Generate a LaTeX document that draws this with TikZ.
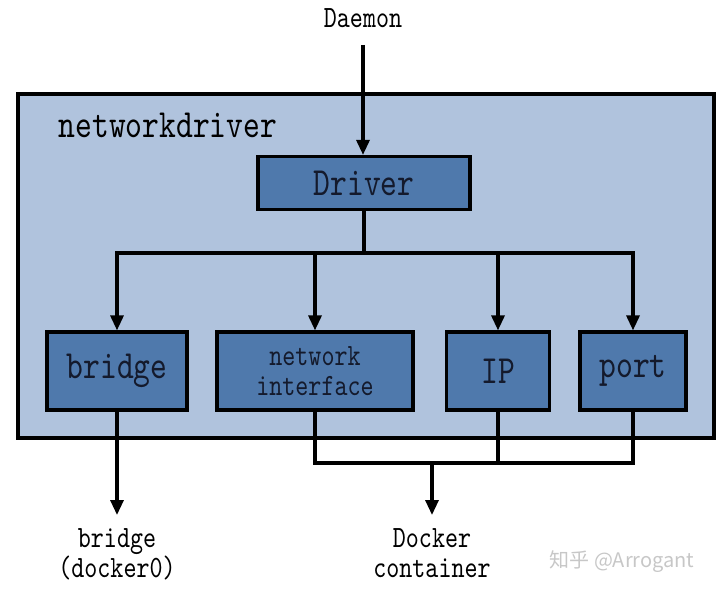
\documentclass[tikz,border=0pt]{standalone}
\usepackage{fontspec}
\newfontfamily\cjkfont{Noto Sans CJK SC}
\newfontfamily\diagramfont{lmmono10-regular.otf}[FakeStretch=0.8]
\definecolor{DriverSurface}{HTML}{B0C3DD}
\definecolor{ModuleSurface}{HTML}{4F79AC}
\definecolor{ModuleText}{HTML}{141A2C}
\newcommand\bigfont{\diagramfont\fontsize{40}{40}\selectfont}
\newcommand\smallfont{\diagramfont\fontsize{31}{30}\selectfont}
\usetikzlibrary{arrows.meta, calc}

\begin{document}
\begin{tikzpicture}[x=1pt, y=-1pt, line width=3.2pt,
    module/.style={draw, fill=ModuleSurface, text=ModuleText, font=\bigfont,
        minimum height=78pt, inner sep=0pt, align=center},
    outertext/.style={font=\smallfont, align=center, inner sep=0pt},
    flow/.style={-{Triangle[length=15pt, width=13pt]}}
]

    \useasboundingbox (0,0) rectangle (720,594);

    % Zona del driver de red
    \draw[fill=DriverSurface] (18,94) rectangle (714,438);
    \node[font=\bigfont, anchor=west, inner sep=0pt] (zonename) at (57,125) {networkdriver};

    % Modulos
    \node[module, minimum width=212pt, minimum height=53pt] (driver) at (364,183) {Driver};
    \node[module, minimum width=140pt] (bridge) at (117,371) {bridge};
    \node[module, minimum width=196pt, font=\smallfont] (netif) at (315,371) {network\\interface};
    \node[module, minimum width=103pt] (ip) at (498,371) {IP};
    \node[module, minimum width=106pt] (port) at (633,371) {port};

    % Textos exteriores
    \node[outertext] (daemon) at (363,18) {Daemon};
    \node[outertext, anchor=north] (docker0) at (117,527) {bridge\\(docker0)};
    \node[outertext, anchor=north] (container) at (432,527) {Docker\\container};
    \node[text=black!22, font=\cjkfont\fontsize{20}{20}\selectfont] (watermark) at (622,562) {知乎 @Arrogant};

    % Entrada desde el daemon
    \draw[flow] (363,45) -- (driver.north -| daemon);

    % Reparto hacia los modulos
    \coordinate (busTop) at (364,253);
    \draw (driver) -- (busTop);
    \draw[line cap=rect] (bridge |- busTop) -- (port |- busTop);
    \foreach \module in {bridge, netif, ip, port}
        \draw[flow] (\module |- busTop) -- (\module);

    % Salidas
    \coordinate (busLow) at (432,463);
    \draw[flow] (bridge) -- (117,515);
    \draw (netif) |- (port |- busLow) -- (port);
    \draw (ip) -- (ip |- busLow);
    \draw[flow] (busLow) -- (432,515);
\end{tikzpicture}
\end{document}
